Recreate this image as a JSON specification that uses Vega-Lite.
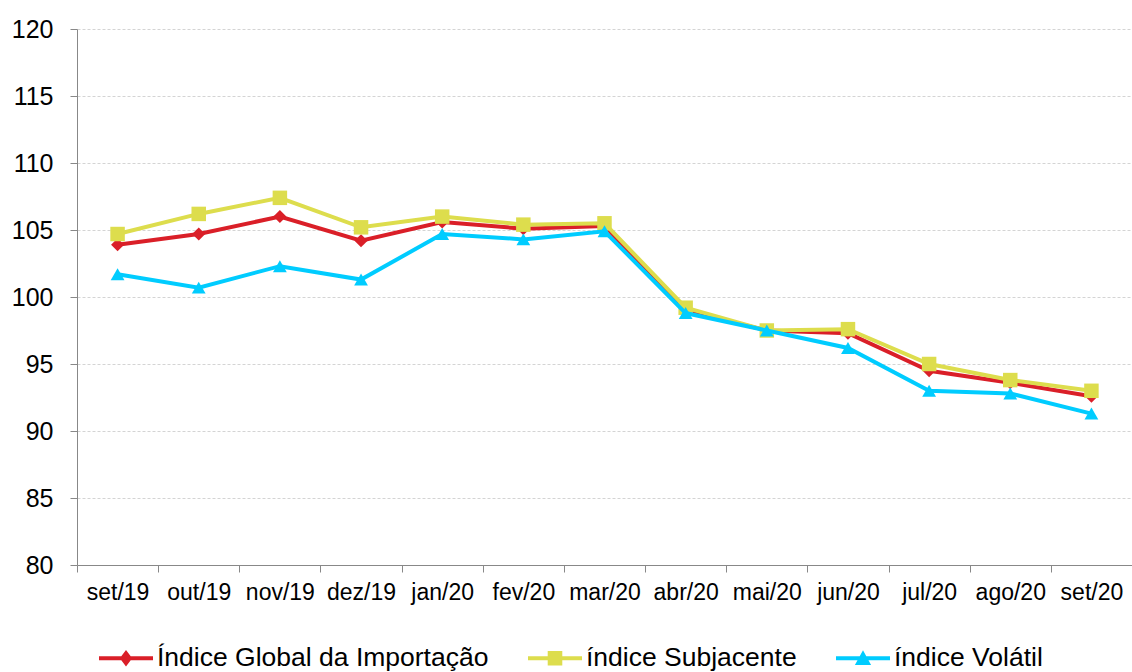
{
  "$schema": "https://vega.github.io/schema/vega-lite/v6.json",
  "width": 1055,
  "height": 536,
  "autosize": {"type": "none"},
  "padding": {"left": 77, "top": 29, "right": 0, "bottom": 107},
  "background": "white",
  "config": {"view": {"stroke": null}, "font": "Liberation Sans"},
  "data": {"values": [
    {"m": "set/19", "s": "Índice Global da Importação", "v": 103.9},
    {"m": "out/19", "s": "Índice Global da Importação", "v": 104.7},
    {"m": "nov/19", "s": "Índice Global da Importação", "v": 106.0},
    {"m": "dez/19", "s": "Índice Global da Importação", "v": 104.2},
    {"m": "jan/20", "s": "Índice Global da Importação", "v": 105.6},
    {"m": "fev/20", "s": "Índice Global da Importação", "v": 105.1},
    {"m": "mar/20", "s": "Índice Global da Importação", "v": 105.3},
    {"m": "abr/20", "s": "Índice Global da Importação", "v": 99.0},
    {"m": "mai/20", "s": "Índice Global da Importação", "v": 97.5},
    {"m": "jun/20", "s": "Índice Global da Importação", "v": 97.3},
    {"m": "jul/20", "s": "Índice Global da Importação", "v": 94.5},
    {"m": "ago/20", "s": "Índice Global da Importação", "v": 93.6},
    {"m": "set/20", "s": "Índice Global da Importação", "v": 92.6},
    {"m": "set/19", "s": "índice Subjacente", "v": 104.7},
    {"m": "out/19", "s": "índice Subjacente", "v": 106.2},
    {"m": "nov/19", "s": "índice Subjacente", "v": 107.4},
    {"m": "dez/19", "s": "índice Subjacente", "v": 105.2},
    {"m": "jan/20", "s": "índice Subjacente", "v": 106.0},
    {"m": "fev/20", "s": "índice Subjacente", "v": 105.4},
    {"m": "mar/20", "s": "índice Subjacente", "v": 105.5},
    {"m": "abr/20", "s": "índice Subjacente", "v": 99.2},
    {"m": "mai/20", "s": "índice Subjacente", "v": 97.5},
    {"m": "jun/20", "s": "índice Subjacente", "v": 97.6},
    {"m": "jul/20", "s": "índice Subjacente", "v": 95.0},
    {"m": "ago/20", "s": "índice Subjacente", "v": 93.8},
    {"m": "set/20", "s": "índice Subjacente", "v": 93.0},
    {"m": "set/19", "s": "índice Volátil", "v": 101.7},
    {"m": "out/19", "s": "índice Volátil", "v": 100.7},
    {"m": "nov/19", "s": "índice Volátil", "v": 102.3},
    {"m": "dez/19", "s": "índice Volátil", "v": 101.3},
    {"m": "jan/20", "s": "índice Volátil", "v": 104.7},
    {"m": "fev/20", "s": "índice Volátil", "v": 104.3},
    {"m": "mar/20", "s": "índice Volátil", "v": 104.9},
    {"m": "abr/20", "s": "índice Volátil", "v": 98.8},
    {"m": "mai/20", "s": "índice Volátil", "v": 97.5},
    {"m": "jun/20", "s": "índice Volátil", "v": 96.2},
    {"m": "jul/20", "s": "índice Volátil", "v": 93.0},
    {"m": "ago/20", "s": "índice Volátil", "v": 92.8},
    {"m": "set/20", "s": "índice Volátil", "v": 91.3}
  ]},
  "encoding": {
    "x": {
      "field": "m", "type": "ordinal",
      "sort": ["set/19","out/19","nov/19","dez/19","jan/20","fev/20","mar/20","abr/20","mai/20","jun/20","jul/20","ago/20","set/20"],
      "scale": {"type": "band", "paddingInner": 0, "paddingOuter": 0},
      "bandPosition": 0.5,
      "axis": {
        "title": null, "labelAngle": 0, "labelFontSize": 23, "labelColor": "#000000",
        "tickBand": "extent", "tickSize": 7, "tickColor": "#888888", "domainColor": "#888888",
        "labelPadding": 9, "grid": false
      }
    },
    "y": {
      "field": "v", "type": "quantitative",
      "scale": {"domain": [80, 120], "nice": false, "zero": false},
      "axis": {
        "title": null, "values": [80,85,90,95,100,105,110,115,120],
        "labelFontSize": 25, "labelColor": "#000000", "tickSize": 7, "labelPadding": 17,
        "tickColor": "#888888", "domainColor": "#888888",
        "grid": true, "gridColor": "#d4d4d4", "gridDash": [3, 2], "gridWidth": 1
      }
    },
    "color": {
      "field": "s", "type": "nominal",
      "scale": {"domain": ["Índice Global da Importação", "índice Subjacente", "índice Volátil"], "range": ["#DA1F28", "#DDDD4D", "#00CCFF"]},
      "legend": {
        "title": null, "orient": "none", "direction": "horizontal",
        "legendX": 22, "legendY": 602,
        "labelFontSize": 26.5, "labelColor": "#000000", "labelLimit": 0,
        "symbolSize": 2916, "labelOffset": 4, "columnPadding": 39,
        "encode": {
          "symbols": {
            "update": {
              "shape": {"signal": "datum.value === 'Índice Global da Importação' ? 'M-1,-0.075H1V0.075H-1ZM0,-0.31L0.23,0L0,0.31L-0.23,0Z' : datum.value === 'índice Subjacente' ? 'M-1,-0.075H1V0.075H-1ZM-0.27,-0.27H0.27V0.27H-0.27Z' : 'M-1,-0.075H1V0.075H-1ZM0,-0.3L0.3,0.25H-0.3Z'"},
              "fill": {"scale": "color", "field": "value"},
              "strokeWidth": {"value": 0},
              "opacity": {"value": 1},
              "size": {"value": 2916}
            }
          }
        }
      }
    }
  },
  "layer": [
    {
      "transform": [{"filter": "datum.s === 'Índice Global da Importação'"}],
      "mark": {"type": "line", "strokeWidth": 4}
    },
    {
      "transform": [{"filter": "datum.s === 'Índice Global da Importação'"}],
      "mark": {"type": "point", "filled": true, "opacity": 1, "shape": "diamond", "size": 170}
    },
    {
      "transform": [{"filter": "datum.s === 'índice Subjacente'"}],
      "mark": {"type": "line", "strokeWidth": 4}
    },
    {
      "transform": [{"filter": "datum.s === 'índice Subjacente'"}],
      "mark": {"type": "point", "filled": true, "opacity": 1, "shape": "square", "size": 210}
    },
    {
      "transform": [{"filter": "datum.s === 'índice Volátil'"}],
      "mark": {"type": "line", "strokeWidth": 4}
    },
    {
      "transform": [{"filter": "datum.s === 'índice Volátil'"}],
      "mark": {"type": "point", "filled": true, "opacity": 1, "shape": "triangle-up", "size": 190}
    }
  ]
}
